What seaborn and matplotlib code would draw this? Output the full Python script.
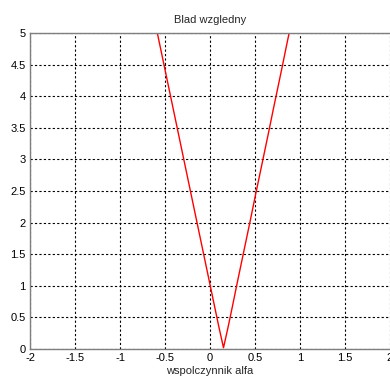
import matplotlib
matplotlib.use("Agg")
import matplotlib.pyplot as plt
import seaborn as sns
import pandas as pd

# wspolczynnik alfa vs blad wzgledny
alfa = [-0.70, -0.65, -0.60, -0.55, -0.50, -0.45, -0.40, -0.35, -0.30, -0.25,
        -0.20, -0.15, -0.10, -0.05, 0.00, 0.05, 0.10, 0.15, 0.20, 0.25,
        0.30, 0.35, 0.40, 0.45, 0.50, 0.55, 0.60, 0.65, 0.70, 0.75,
        0.80, 0.85, 0.90, 0.95, 1.00]
blad = [5.78, 5.44, 5.10, 4.76, 4.42, 4.08, 3.74, 3.40, 3.06, 2.72,
        2.38, 2.04, 1.70, 1.36, 1.02, 0.68, 0.34, 0.02, 0.34, 0.68,
        1.03, 1.37, 1.71, 2.05, 2.40, 2.74, 3.08, 3.42, 3.77, 4.11,
        4.45, 4.80, 5.14, 5.48, 5.82]
xticks = [-2, -1.5, -1, -0.5, 0, 0.5, 1, 1.5, 2]
yticks = [0, 0.5, 1, 1.5, 2, 2.5, 3, 3.5, 4, 4.5, 5]
xtick_labels = ["-2", "-1.5", "-1", "-0.5", "0", "0.5", "1", "1.5", "2"]
ytick_labels = ["0", "0.5", "1", "1.5", "2", "2.5", "3", "3.5", "4", "4.5", "5"]

df = pd.DataFrame({"alfa": alfa, "blad": blad})

sns.set_style("white")
plt.rcParams["font.family"] = ["Liberation Sans", "DejaVu Sans"]

fig = plt.figure(figsize=(3.90, 3.81), dpi=100)
ax = fig.add_axes([30 / 390, 1 - 349 / 381, 1 - 30 / 390, (349 - 33) / 381])

sns.lineplot(data=df, x="alfa", y="blad", color="red", linewidth=1.0, ax=ax)

ax.set_xlim(-2, 2)
ax.set_ylim(0, 5)
ax.set_xticks(xticks)
ax.set_xticklabels(xtick_labels)
ax.set_yticks(yticks)
ax.set_yticklabels(ytick_labels)
ax.grid(True, color="black", linestyle=(0, (2, 2)), linewidth=0.8)
ax.tick_params(axis="both", length=0, labelsize=8, pad=3, colors="black")

for side in ["left", "top", "bottom"]:
    ax.spines[side].set_color("#7f7f7f")
    ax.spines[side].set_linewidth(1.0)
ax.spines["right"].set_visible(False)

ax.set_title("Blad wzgledny", fontsize=8, pad=7)
ax.set_xlabel("wspolczynnik alfa", fontsize=8, labelpad=2)
ax.set_ylabel("")

fig.savefig("out.png", dpi=100)
